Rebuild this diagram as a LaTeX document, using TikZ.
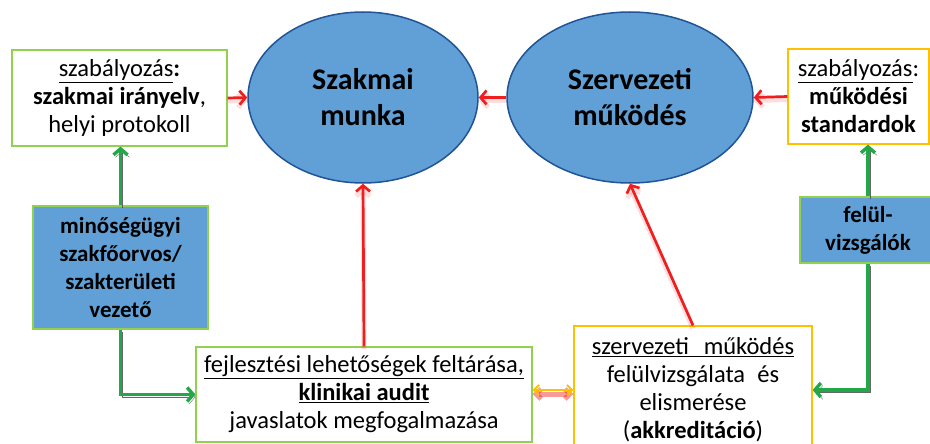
\documentclass[tikz,border=0pt]{standalone}
\usepackage{fontspec}
\setmainfont{Carlito}
\usepackage{tikz}
\usetikzlibrary{arrows.meta,shapes.geometric}
\definecolor{ellfill}{RGB}{96,160,214}
\definecolor{ellline}{RGB}{32,84,150}
\definecolor{boxgreen}{RGB}{146,208,80}
\definecolor{boxorange}{RGB}{255,192,0}
\definecolor{arrgreen}{RGB}{34,168,72}
\definecolor{arrred}{RGB}{240,30,30}

\tikzset{
	ell/.style={ellipse,draw=ellline,fill=ellfill,line width=1.5pt,inner sep=0pt,
		align=center,font=\fontsize{30}{36}\selectfont\bfseries},
	gbox/.style={draw=boxgreen,fill=white,line width=1.2pt,inner sep=0pt,
		align=center,font=\fontsize{24.5}{28}\selectfont},
	obox/.style={gbox,draw=boxorange},
	bbox/.style={gbox,fill=ellfill,font=\fontsize{23}{28}\selectfont\bfseries},
	redarr/.style={arrred,line width=2.7pt,-{Straight Barb[length=6pt,width=14pt]},
		preaction={draw=arrred,opacity=.15,line width=5pt,transform canvas={yshift=-3pt}}},
	grnarr/.style={arrgreen,line width=3.4pt,-{Straight Barb[length=6pt,width=14pt]},
		preaction={draw=black!70,opacity=.85,transform canvas={shift={(2pt,-2.5pt)}}}},
	bothar/.style={boxorange,line width=2pt,{Straight Barb[length=5pt,width=10pt]}-{Straight Barb[length=5pt,width=10pt]},
		preaction={draw=arrred,opacity=.45,line width=5pt,transform canvas={yshift=-4pt}}}
}

\begin{document}
\begin{tikzpicture}[x=1pt,y=-1pt]
	\useasboundingbox (0,0) rectangle (930,444);

	% top row
	\node[gbox,minimum width=215pt,minimum height=96pt] (szab1) at (119.5,98)
		{\underline{szabályozás}\textbf{:}\\ \textbf{szakmai irányelv},\\ helyi protokoll};
	\node[ell,minimum width=230pt,minimum height=171pt] (szakm) at (363,97.5) {Szakmai\\munka};
	\node[ell,minimum width=246pt,minimum height=171pt] (szerv) at (630,97.5) {Szervezeti\\működés};
	\node[obox,minimum width=141pt,minimum height=95pt] (szab2) at (858.5,96.5)
		{\underline{szabályozás}:\\ \textbf{működési}\\ \textbf{standardok}};

	% middle row
	\node[bbox,minimum width=175pt,minimum height=123pt] (minos) at (120.5,267.5)
		{minőségügyi\\szakfőorvos/\\szakterületi\\vezető};
	\node[bbox,minimum width=136pt,minimum height=66pt] (felul) at (868,230)
		{felül-\\vizsgálók};

	% bottom row
	\node[gbox,minimum width=336pt,minimum height=95pt] (fejl) at (364,394.5)
		{\underline{fejlesztési lehetőségek feltárása,}\\ \textbf{\underline{klinikai audit}}\\ javaslatok megfogalmazása};
	\node[obox,minimum width=238pt,minimum height=128pt] (akkr) at (693,390)
		{\underline{szervezeti\hspace{0.6em}működés}\\ felülvizsgálata\hspace{0.5em}és\\ elismerése\\ (\textbf{akkreditáció})};

	% red arrows
	\draw[redarr] (szab1.east) -- (szakm.west);
	\draw[redarr] (szerv.west) -- (szakm.east);
	\draw[redarr] (szab2.west) -- (szerv.east);
	\draw[redarr] (fejl.north) -- (szakm.south);
	\draw[redarr] (akkr.north) -- (szerv.south);

	% green arrows
	\draw[grnarr] (minos.north) -- (minos.north |- szab1.south);
	\draw[grnarr] (minos.south) |- (fejl.west);
	\draw[grnarr] (felul.north) -- (felul.north |- szab2.south);
	\draw[grnarr] (felul.south) |- (akkr.east);

	\draw[bothar] (akkr.west -| fejl.east) -- (akkr.west);
\end{tikzpicture}
\end{document}
